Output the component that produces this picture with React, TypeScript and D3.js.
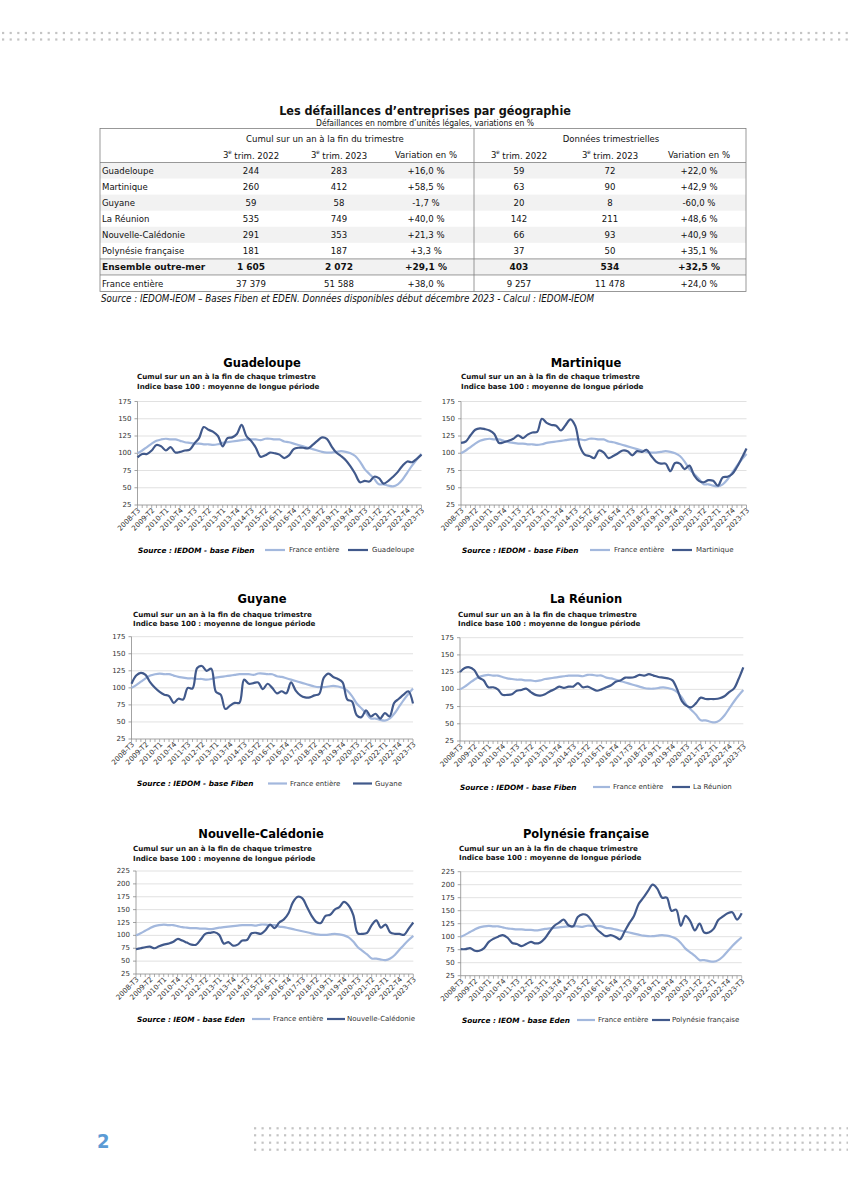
import React from 'react';
import * as d3 from 'd3';

// ---------- DATA ----------
const quarters = [
  '2008-T3', '2008-T4', '2009-T1', '2009-T2', '2009-T3', '2009-T4', '2010-T1', '2010-T2', '2010-T3', '2010-T4',
  '2011-T1', '2011-T2', '2011-T3', '2011-T4', '2012-T1', '2012-T2', '2012-T3', '2012-T4', '2013-T1', '2013-T2',
  '2013-T3', '2013-T4', '2014-T1', '2014-T2', '2014-T3', '2014-T4', '2015-T1', '2015-T2', '2015-T3', '2015-T4',
  '2016-T1', '2016-T2', '2016-T3', '2016-T4', '2017-T1', '2017-T2', '2017-T3', '2017-T4', '2018-T1', '2018-T2',
  '2018-T3', '2018-T4', '2019-T1', '2019-T2', '2019-T3', '2019-T4', '2020-T1', '2020-T2', '2020-T3', '2020-T4',
  '2021-T1', '2021-T2', '2021-T3', '2021-T4', '2022-T1', '2022-T2', '2022-T3', '2022-T4', '2023-T1', '2023-T2',
  '2023-T3',
];

const franceEntiere = [
  100, 104, 109, 114, 118, 120, 121, 120, 120, 118,
  116, 115, 114, 114, 113, 113, 112, 113, 115, 116,
  117, 118, 119, 120, 120, 120, 119, 121, 121, 120,
  120, 117, 116, 114, 112, 110, 108, 106, 104, 102,
  101, 101, 102, 103, 102, 100, 96, 88, 77, 70,
  63, 55, 55, 53, 52, 55, 62, 72, 82, 91,
  99,
];

const guadeloupe = [
  94, 99, 99, 104, 112, 110, 104, 109, 101, 102,
  104, 105, 114, 122, 138, 134, 131, 125, 110, 122,
  123, 128, 141, 125, 118, 108, 95, 97, 101, 100,
  98, 93, 97, 106, 108, 108, 107, 112, 118, 123,
  121, 110, 101, 96, 90, 81, 70, 58, 60, 59,
  66, 64, 56, 60, 66, 73, 82, 88, 87, 92,
  98,
];

const martinique = [
  115, 117, 126, 134, 136, 135, 133, 128, 115, 116,
  118, 121, 126, 122, 127, 130, 131, 150, 144, 141,
  140, 133, 141, 149, 140, 110, 98, 96, 93, 104,
  101, 93, 96, 100, 104, 103, 97, 103, 102, 105,
  96, 88, 85, 85, 74, 86, 85, 77, 82, 68,
  60, 58, 61, 60, 53, 65, 66, 70, 80, 93,
  107,
];

const guyane = [
  106, 118, 122, 119, 108, 100, 94, 90, 88, 78,
  84, 83, 100, 99, 129, 132, 125, 128, 94, 90,
  69, 74, 78, 78, 112, 106, 107, 108, 98, 106,
  100, 92, 95, 92, 108, 96, 89, 86, 86, 89,
  91, 115, 121, 116, 113, 108, 83, 80, 60, 57,
  67, 58, 62, 55, 63, 58, 78, 84, 90, 95,
  77,
];

const laReunion = [
  125, 131, 132, 128, 117, 113, 103, 103, 100, 92,
  92, 93, 98, 99, 101, 96, 92, 91, 93, 97,
  100, 104, 102, 104, 104, 109, 103, 104, 101, 98,
  100, 103, 106, 111, 113, 117, 117, 118, 121, 120,
  122, 120, 118, 117, 116, 113, 100, 83, 76, 74,
  80, 88, 86, 86, 86, 87, 90, 96, 101, 115,
  132,
];

const nouvelleCaledonie = [
  73, 75, 77, 78, 75, 79, 82, 84, 87, 93,
  90, 86, 82, 82, 92, 103, 105, 106, 101, 84,
  87, 80, 82, 90, 91, 104, 105, 103, 110, 121,
  114, 125, 131, 143, 165, 175, 172, 155, 138, 126,
  124, 138, 140, 150, 155, 165, 158, 140, 104, 103,
  105, 120, 129, 115, 121, 106, 103, 103, 101, 113,
  125,
];

const polynesieFrancaise = [
  76, 76, 78, 73, 73, 78, 90, 96, 100, 103,
  98, 88, 86, 82, 86, 90, 87, 89, 97, 110,
  121, 127, 133, 122, 120, 138, 143, 141, 130, 115,
  107, 101, 103, 100, 95, 110, 126, 140, 163, 175,
  188, 200, 192, 175, 175, 150, 152, 121, 140, 130,
  112, 125, 108, 108, 115, 132, 139, 145, 147, 133,
  145,
];

const regionNames = ['Guadeloupe', 'Martinique', 'Guyane', 'La Réunion', 'Nouvelle-Calédonie', 'Polynésie française'];
const regionSeries = [guadeloupe, martinique, guyane, laReunion, nouvelleCaledonie, polynesieFrancaise];
const regionSources = [
  'Source : IEDOM - base Fiben', 'Source : IEDOM - base Fiben', 'Source : IEDOM - base Fiben',
  'Source : IEDOM - base Fiben', 'Source : IEOM - base Eden', 'Source : IEOM - base Eden',
];
const regionYMax = [175, 175, 175, 175, 225, 225];
const yMin = 25;
const yStep = 25;
const franceLabel = 'France entière';
const subtitle1 = 'Cumul sur un an à la fin de chaque trimestre';
const subtitle2 = 'Indice base 100 : moyenne de longue période';

// Table
const tableTitle = 'Les défaillances d\u2019entreprises par géographie';
const tableSubtitle = 'Défaillances en nombre d\u2019unités légales, variations en %';
const groupHeaders = ['Cumul sur un an à la fin du trimestre', 'Données trimestrielles'];
const colHeaders = [['3', 'e', ' trim. 2022'], ['3', 'e', ' trim. 2023'], ['Variation en %', '', ''], ['3', 'e', ' trim. 2022'], ['3', 'e', ' trim. 2023'], ['Variation en %', '', '']];
const tableRows = ['Guadeloupe', 'Martinique', 'Guyane', 'La Réunion', 'Nouvelle-Calédonie', 'Polynésie française', 'Ensemble outre-mer', 'France entière'];
const cumul2022 = ['244', '260', '59', '535', '291', '181', '1\u00a0605', '37\u00a0379'];
const cumul2023 = ['283', '412', '58', '749', '353', '187', '2\u00a0072', '51\u00a0588'];
const cumulVar = ['+16,0 %', '+58,5 %', '-1,7 %', '+40,0 %', '+21,3 %', '+3,3 %', '+29,1 %', '+38,0 %'];
const trim2022 = ['59', '63', '20', '142', '66', '37', '403', '9\u00a0257'];
const trim2023 = ['72', '90', '8', '211', '93', '50', '534', '11\u00a0478'];
const trimVar = ['+22,0 %', '+42,9 %', '-60,0 %', '+48,6 %', '+40,9 %', '+35,1 %', '+32,5 %', '+24,0 %'];
const tableSource = 'Source : IEDOM-IEOM \u2013 Bases Fiben et EDEN. Données disponibles début décembre 2023 - Calcul : IEDOM-IEOM';
const pageNumber = '2';

// ---------- STYLE / LAYOUT ----------
const DARK = '#41598b';
const LIGHT = '#a3b8dd';
const GRID = '#d9d9d9';
const AXIS = '#8c8c8c';
const TXT = '#333333';
const CHART_FONT = "'DejaVu Sans', Verdana, sans-serif";
const TABLE_FONT = "'DejaVu Sans Condensed', 'DejaVu Sans', sans-serif";

const layouts = [
  { titleX: 262, titleY: 363, subX: 137, sub1Y: 376, sub2Y: 386, L: 137.5, R: 421.5, T: 401.5, B: 505, srcX: 138, legY: 550, lA: 265, lB: 285, lT: 289, dA: 348, dB: 368, dT: 372 },
  { titleX: 586, titleY: 363, subX: 461, sub1Y: 376, sub2Y: 386, L: 461, R: 746.5, T: 401.5, B: 505, srcX: 462, legY: 550, lA: 590, lB: 610, lT: 614, dA: 672, dB: 692, dT: 696 },
  { titleX: 262, titleY: 599, subX: 133, sub1Y: 614, sub2Y: 623.5, L: 131.5, R: 413, T: 636.7, B: 739, srcX: 137, legY: 783.5, lA: 268, lB: 287, lT: 290, dA: 353, dB: 372, dT: 375 },
  { titleX: 586, titleY: 599, subX: 458, sub1Y: 614, sub2Y: 623.5, L: 460, R: 743.3, T: 637.7, B: 741, srcX: 460, legY: 787, lA: 593, lB: 610, lT: 613, dA: 672, dB: 690, dT: 693 },
  { titleX: 261, titleY: 834, subX: 133, sub1Y: 848, sub2Y: 858, L: 136, R: 413.3, T: 871, B: 974, srcX: 137, legY: 1019, lA: 252, lB: 270, lT: 273, dA: 327, dB: 345, dT: 347 },
  { titleX: 586, titleY: 833.5, subX: 459, sub1Y: 848, sub2Y: 857.5, L: 460.7, R: 741.7, T: 871.7, B: 975.7, srcX: 462, legY: 1020, lA: 577, lB: 595, lT: 598, dA: 652, dB: 670, dT: 672 },
];

function LineChart({ idx }: { idx: number }) {
  const lay = layouts[idx];
  const series = regionSeries[idx];
  const yMax = regionYMax[idx];
  const x = d3.scaleLinear().domain([0, quarters.length - 1]).range([lay.L, lay.R]);
  const y = d3.scaleLinear().domain([yMin, yMax]).range([lay.B, lay.T]);
  const yTicks = d3.range(yMin, yMax + 1, yStep);
  const line = d3
    .line<number>()
    .x((_, i) => x(i))
    .y((d) => y(d))
    .curve(d3.curveCatmullRom.alpha(0.5));

  return (
    <g fontFamily={CHART_FONT}>
      <text x={lay.titleX} y={lay.titleY} textAnchor="middle" dominantBaseline="central" fontSize={11.5} fontWeight="bold" fill="#000">
        {regionNames[idx]}
      </text>
      <text x={lay.subX} y={lay.sub1Y} dominantBaseline="central" fontSize={7.1} fontWeight="bold" fill="#111">
        {subtitle1}
      </text>
      <text x={lay.subX} y={lay.sub2Y} dominantBaseline="central" fontSize={7.1} fontWeight="bold" fill="#111">
        {subtitle2}
      </text>
      {yTicks.map((t) => (
        <g key={t}>
          {t !== yMin && <line x1={lay.L} x2={lay.R} y1={y(t)} y2={y(t)} stroke={GRID} strokeWidth={0.8} />}
          <line x1={lay.L - 3} x2={lay.L} y1={y(t)} y2={y(t)} stroke={AXIS} strokeWidth={0.8} />
          <text x={lay.L - 6} y={y(t)} textAnchor="end" dominantBaseline="central" fontSize={7} fill={TXT}>
            {t}
          </text>
        </g>
      ))}
      <line x1={lay.L} x2={lay.L} y1={lay.T} y2={lay.B} stroke={AXIS} strokeWidth={0.8} />
      <line x1={lay.L} x2={lay.R} y1={lay.B} y2={lay.B} stroke={AXIS} strokeWidth={0.8} />
      {quarters.map((q, i) => (
        <line key={q} x1={x(i)} x2={x(i)} y1={lay.B} y2={lay.B + 3} stroke={AXIS} strokeWidth={0.7} />
      ))}
      {quarters.map((q, i) =>
        i % 3 === 0 ? (
          <text
            key={'l' + q}
            transform={`translate(${x(i) + 1.5},${lay.B + 4}) rotate(-45)`}
            textAnchor="end"
            dy="0.35em"
            fontSize={7.1}
            fill={TXT}
          >
            {q}
          </text>
        ) : null
      )}
      <path d={line(franceEntiere) || ''} fill="none" stroke={LIGHT} strokeWidth={2.2} strokeLinejoin="round" />
      <path d={line(series) || ''} fill="none" stroke={DARK} strokeWidth={2.2} strokeLinejoin="round" />
      <text x={lay.srcX} y={lay.legY} dominantBaseline="central" fontSize={7.3} fontWeight="bold" fontStyle="italic" fill="#000">
        {regionSources[idx]}
      </text>
      <line x1={lay.lA} x2={lay.lB} y1={lay.legY} y2={lay.legY} stroke={LIGHT} strokeWidth={2.2} />
      <text x={lay.lT} y={lay.legY} dominantBaseline="central" fontSize={7} fill={TXT}>
        {franceLabel}
      </text>
      <line x1={lay.dA} x2={lay.dB} y1={lay.legY} y2={lay.legY} stroke={DARK} strokeWidth={2.2} />
      <text x={lay.dT} y={lay.legY} dominantBaseline="central" fontSize={7} fill={TXT}>
        {regionNames[idx]}
      </text>
    </g>
  );
}

function Table() {
  const left = 100;
  const right = 746;
  const sep = 474;
  const top = 128.5;
  const bottom = 291.5;
  const headLine = 162.5;
  const colX = [251, 339, 426, 519, 610, 699];
  const groupX = [325, 611];
  const rowY = d3.scaleLinear().domain([0, 7]).range([170.5, 283]);
  const cols = [cumul2022, cumul2023, cumulVar, trim2022, trim2023, trimVar];
  const shaded = [0, 2, 4, 6];
  const pitch = rowY(1) - rowY(0);
  return (
    <g fontFamily={TABLE_FONT} fill="#111">
      <text x={425} y={110} textAnchor="middle" dominantBaseline="central" fontSize={12.5} fontWeight="bold">
        {tableTitle}
      </text>
      <text x={425} y={122.5} textAnchor="middle" dominantBaseline="central" fontSize={8.5}>
        {tableSubtitle}
      </text>
      {shaded.map((r) => (
        <rect key={r} x={left} y={rowY(r) - pitch / 2} width={right - left} height={pitch} fill="#f2f2f2" />
      ))}
      <rect x={left} y={top} width={right - left} height={bottom - top} fill="none" stroke="#7f7f7f" strokeWidth={0.8} />
      <line x1={sep} x2={sep} y1={top} y2={bottom} stroke="#7f7f7f" strokeWidth={0.8} />
      <line x1={left} x2={right} y1={headLine} y2={headLine} stroke="#7f7f7f" strokeWidth={0.8} />
      <line x1={left} x2={right} y1={rowY(5.5)} y2={rowY(5.5)} stroke="#7f7f7f" strokeWidth={0.8} />
      <line x1={left} x2={right} y1={rowY(6.5)} y2={rowY(6.5)} stroke="#7f7f7f" strokeWidth={0.8} />
      {groupHeaders.map((h, i) => (
        <text key={h} x={groupX[i]} y={138.5} textAnchor="middle" dominantBaseline="central" fontSize={9.5}>
          {h}
        </text>
      ))}
      {colHeaders.map((h, i) => (
        <text key={i} x={colX[i]} y={154.5} textAnchor="middle" dominantBaseline="central" fontSize={9.5}>
          {h[0]}
          {h[1] && (
            <tspan fontSize={6} dy={-3.5}>
              {h[1]}
            </tspan>
          )}
          {h[2] && <tspan dy={h[1] ? 3.5 : 0}>{h[2]}</tspan>}
        </text>
      ))}
      {tableRows.map((r, ri) => {
        const bold = ri === 6;
        return (
          <g key={r} fontWeight={bold ? 'bold' : 'normal'} fontFamily={bold ? CHART_FONT : TABLE_FONT}>
            <text x={102} y={rowY(ri)} dominantBaseline="central" fontSize={bold ? 9 : 9.5}>
              {r}
            </text>
            {cols.map((c, ci) => (
              <text key={ci} x={colX[ci]} y={rowY(ri)} textAnchor="middle" dominantBaseline="central" fontSize={bold ? 9 : 9.5}>
                {c[ri]}
              </text>
            ))}
          </g>
        );
      })}
      <text x={101} y={298.5} dominantBaseline="central" fontSize={9.6} fontStyle="italic" textLength={493} lengthAdjust="spacingAndGlyphs">
        {tableSource}
      </text>
    </g>
  );
}

function Dots({ x0, x1, ys, step }: { x0: number; x1: number; ys: number[]; step: number }) {
  const xs = d3.range(x0, x1, step);
  return (
    <g fill="#c4c4c4">
      {ys.map((yy) => xs.map((xx) => <rect key={yy + '-' + xx} x={xx} y={yy - 1.1} width={2.2} height={2.2} />))}
    </g>
  );
}

export default function App() {
  return (
    <svg
      width={848}
      height={1200}
      viewBox="0 0 848 1200"
      style={{ position: 'absolute', left: 0, top: 0, background: '#fff' }}
    >
      <rect x={0} y={0} width={848} height={1200} fill="#fff" />
      <Dots x0={2} x1={848} ys={[33, 39.5]} step={7.6} />
      <Table />
      {regionNames.map((_, i) => (
        <LineChart key={i} idx={i} />
      ))}
      <text x={97} y={1141} dominantBaseline="central" fontSize={20} fontWeight="bold" fill="#5b9bd5" fontFamily="'DejaVu Sans Condensed', 'DejaVu Sans', sans-serif">
        {pageNumber}
      </text>
      <Dots x0={254} x1={848} ys={[1128.3, 1135.3, 1142.7, 1149.7]} step={7.5} />
    </svg>
  );
}
